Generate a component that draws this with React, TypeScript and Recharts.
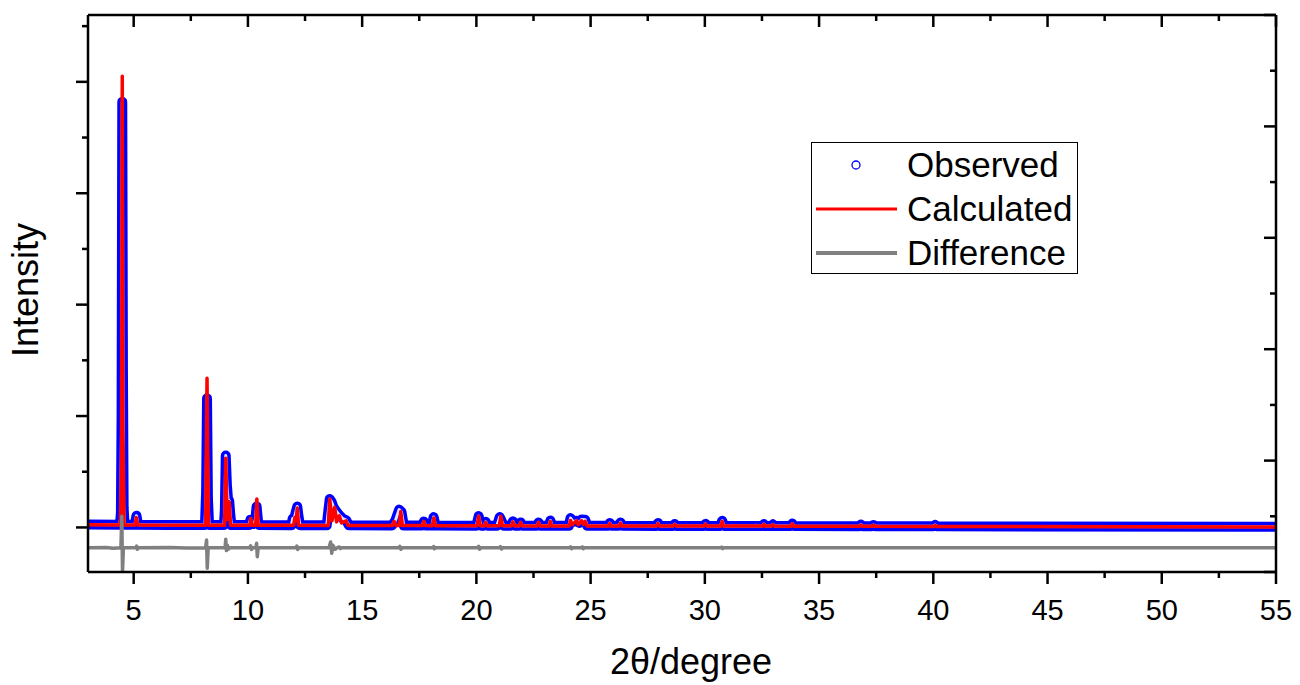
import { LineChart, Line, XAxis, YAxis, Legend } from "recharts";

// powder pattern: [2theta, intensity]
const observed: [number, number][] = [
  [3.0, 26],
  [4.40, 25], [4.44, 130], [4.47, 1000], [4.50, 3820], [4.53, 1400], [4.56, 180], [4.60, 25],
  [5.05, 24], [5.12, 105], [5.19, 24],
  [6.5, 23],
  [8.12, 22], [8.17, 320], [8.21, 1160], [8.25, 260], [8.30, 22],
  [8.95, 22], [8.99, 160], [9.03, 645], [9.08, 380], [9.13, 250], [9.18, 240], [9.23, 110], [9.28, 21],
  [10.05, 21], [10.11, 70], [10.17, 40], [10.24, 30], [10.32, 60], [10.38, 188], [10.44, 60], [10.50, 21],
  [11.90, 20], [11.96, 80], [12.04, 90], [12.11, 150], [12.16, 188], [12.22, 90], [12.28, 20],
  [13.45, 19], [13.52, 150], [13.58, 255], [13.66, 230], [13.75, 180], [13.85, 150], [14.0, 110], [14.15, 80], [14.30, 65], [14.42, 19],
  [16.3, 18], [16.45, 60], [16.62, 160], [16.72, 140], [16.82, 18],
  [17.62, 18], [17.70, 53], [17.78, 18],
  [18.05, 17], [18.13, 93], [18.21, 17],
  [20.0, 16], [20.1, 102], [20.2, 16], [20.34, 16], [20.41, 50], [20.48, 16],
  [20.9, 16], [21.02, 93], [21.1, 60], [21.2, 16],
  [21.52, 16], [21.6, 55], [21.68, 16], [21.88, 16], [21.94, 45], [22.0, 16],
  [22.65, 16], [22.72, 45], [22.79, 15],
  [23.16, 15], [23.24, 62], [23.32, 15],
  [24.05, 15], [24.12, 84], [24.25, 50], [24.38, 60], [24.5, 40], [24.6, 71], [24.76, 70], [24.85, 15],
  [25.78, 15], [25.84, 40], [25.9, 15],
  [26.24, 15], [26.31, 45], [26.38, 15],
  [27.88, 14], [27.95, 40], [28.02, 14],
  [28.6, 14], [28.68, 30], [28.76, 14],
  [29.96, 14], [30.03, 32], [30.1, 14],
  [30.68, 14], [30.76, 60], [30.84, 14],
  [32.5, 13], [32.58, 30], [32.66, 13],
  [32.9, 13], [32.98, 28], [33.06, 13],
  [33.75, 12], [33.83, 35], [33.91, 12],
  [36.75, 11], [36.83, 25], [36.91, 11],
  [37.3, 11], [37.38, 22], [37.46, 11],
  [40.0, 10], [40.08, 22], [40.16, 10],
  [55, 6],
];

const calculated: [number, number][] = [
  [3.0, 24],
  [4.42, 23], [4.47, 700], [4.50, 4050], [4.53, 900], [4.58, 23],
  [5.06, 22], [5.12, 88], [5.18, 22],
  [8.15, 20], [8.21, 1340], [8.27, 20],
  [8.98, 20], [9.03, 622], [9.09, 70], [9.18, 230], [9.24, 20],
  [10.08, 20], [10.13, 80], [10.19, 20], [10.34, 20], [10.39, 255], [10.45, 20],
  [12.0, 19], [12.06, 90], [12.11, 60], [12.16, 175], [12.22, 19],
  [13.52, 18], [13.58, 255], [13.68, 60], [13.8, 180], [13.88, 50], [14.0, 105], [14.1, 40], [14.3, 60], [14.38, 18],
  [16.33, 17], [16.4, 55], [16.5, 17], [16.63, 17], [16.69, 143], [16.76, 17],
  [17.64, 17], [17.70, 55], [17.76, 17],
  [18.07, 16], [18.14, 85], [18.21, 16],
  [20.03, 15], [20.1, 100], [20.17, 15], [20.35, 15], [20.41, 45], [20.47, 15],
  [21.0, 15], [21.07, 100], [21.14, 15],
  [21.54, 15], [21.6, 50], [21.66, 15], [21.88, 15], [21.94, 45], [22.0, 15],
  [22.66, 14], [22.72, 45], [22.78, 14],
  [23.18, 14], [23.24, 55], [23.3, 14],
  [24.06, 14], [24.12, 62], [24.2, 25], [24.38, 60], [24.46, 25], [24.6, 62], [24.68, 30], [24.76, 55], [24.84, 14],
  [25.79, 14], [25.84, 35], [25.89, 14],
  [26.25, 14], [26.31, 40], [26.37, 14],
  [27.89, 13], [27.95, 35], [28.01, 13],
  [28.62, 13], [28.68, 28], [28.74, 13],
  [29.97, 13], [30.03, 30], [30.09, 13],
  [30.7, 13], [30.76, 55], [30.82, 13],
  [32.52, 12], [32.58, 28], [32.64, 12],
  [32.92, 12], [32.98, 25], [33.04, 12],
  [33.77, 11], [33.83, 32], [33.89, 11],
  [36.77, 10], [36.83, 22], [36.89, 10],
  [37.32, 10], [37.38, 20], [37.44, 10],
  [40.02, 9], [40.08, 20], [40.14, 9],
  [55, 5],
];

// obs - calc, drawn with an offset below the pattern
const difference: [number, number][] = [
  [3, -183], [3.8, -180], [4.1, -186],
  [4.44, -183], [4.48, 100], [4.51, -400], [4.55, -183],
  [5.1, -183], [5.13, -168], [5.16, -196], [5.2, -183],
  [6.6, -181], [7.3, -185],
  [8.15, -183], [8.19, -113], [8.22, -366], [8.26, -183],
  [9.0, -183], [9.03, -105], [9.06, -208], [9.1, -160], [9.15, -195], [9.2, -183],
  [10.08, -183], [10.12, -165], [10.16, -198], [10.2, -183],
  [10.35, -183], [10.38, -142], [10.41, -263], [10.45, -183],
  [12.1, -183], [12.14, -168], [12.18, -198], [12.22, -183],
  [13.55, -183], [13.62, -130], [13.67, -232], [13.72, -160], [13.82, -196], [13.9, -183],
  [14.0, -175], [14.05, -190], [14.1, -183],
  [16.6, -183], [16.65, -170], [16.7, -196], [16.75, -183],
  [18.1, -183], [18.13, -172], [18.16, -192], [18.2, -183],
  [20.05, -183], [20.1, -170], [20.14, -195], [20.2, -183],
  [21.0, -183], [21.05, -172], [21.1, -194], [21.15, -183],
  [24.1, -183], [24.13, -174], [24.17, -191], [24.2, -183],
  [24.6, -183], [24.64, -175], [24.68, -190], [24.72, -183],
  [30.7, -183], [30.74, -176], [30.78, -190], [30.82, -183],
  [55, -183],
];

const xTicks = [5, 7.5, 10, 12.5, 15, 17.5, 20, 22.5, 25, 27.5, 30, 32.5, 35, 37.5, 40, 42.5, 45, 47.5, 50, 52.5, 55];
const xMajor = [5, 10, 15, 20, 25, 30, 35, 40, 45, 50, 55];
const leftTicks = [0, 500, 1000, 1500, 2000, 2500, 3000, 3500, 4000, 4500];
const leftMajor = [0, 1000, 2000, 3000, 4000];
const rightTicks = [-400, 100, 600, 1100, 1600, 2100, 2600, 3100, 3600, 4100, 4600];
const rightMajor = [-400, 600, 1600, 2600, 3600, 4600];

const series = [
  { name: "Observed", color: "#0000ff" },
  { name: "Calculated", color: "#ff0000" },
  { name: "Difference", color: "#808080" },
];

const FONT = "Arial, 'Liberation Sans', sans-serif";
const axisStyle = { stroke: "#000", strokeWidth: 2.5 };
const toRows = (pts: [number, number][]) => pts.map(([x, y]) => ({ x, y }));

const BottomTick = ({ x, y, payload }: any) => {
  const major = xMajor.includes(payload.value);
  return (
    <g>
      <line x1={x} x2={x} y1={y} y2={y + (major ? 12 : 6)} stroke="#000" strokeWidth={2.5} />
      {major && (
        <text x={x} y={y + 48} textAnchor="middle" fontSize={29} fontFamily={FONT} fill="#000">
          {payload.value}
        </text>
      )}
    </g>
  );
};

const TopTick = ({ x, y, payload }: any) => {
  const major = xMajor.includes(payload.value);
  return <line x1={x} x2={x} y1={y} y2={y + (major ? 12 : 6)} stroke="#000" strokeWidth={2.5} />;
};

const LeftTick = ({ x, y, payload }: any) => {
  const major = leftMajor.includes(payload.value);
  return <line x1={x - (major ? 12 : 6)} x2={x} y1={y} y2={y} stroke="#000" strokeWidth={2.5} />;
};

const RightTick = ({ x, y, payload }: any) => {
  const major = rightMajor.includes(payload.value);
  return <line x1={x - (major ? 12 : 6)} x2={x} y1={y} y2={y} stroke="#000" strokeWidth={2.5} />;
};

const LegendBox = () => (
  <svg width={268} height={133} style={{ display: "block" }}>
    <rect x={0.5} y={0.5} width={266} height={131} fill="#fff" stroke="#000" strokeWidth={1} />
    {series.map((s, i) => {
      const cy = 23 + i * 44;
      return (
        <g key={s.name}>
          {i === 0 ? (
            <circle cx={45} cy={cy} r={4} fill="none" stroke={s.color} strokeWidth={1.3} />
          ) : (
            <line x1={5} x2={86} y1={cy} y2={cy} stroke={s.color} strokeWidth={i === 1 ? 3 : 4} />
          )}
          <text x={96} y={cy + 11.5} fontSize={35} fontFamily={FONT} fill="#000">
            {s.name}
          </text>
        </g>
      );
    })}
  </svg>
);

export default function App() {
  const obsRows = toRows(observed);
  return (
    <div style={{ position: "absolute", left: 0, top: 0, width: 1300, height: 685, background: "#fff" }}>
      <LineChart width={1300} height={685} margin={{ top: 0, right: 0, bottom: 0, left: 0 }}>
        <XAxis
          xAxisId="bottom"
          type="number"
          dataKey="x"
          domain={[3, 55]}
          ticks={xTicks}
          interval={0}
          allowDataOverflow
          height={113}
          tickSize={0}
          tickMargin={0}
          tickLine={false}
          tick={<BottomTick />}
          axisLine={axisStyle}
          label={{
            content: () => (
              <text x={691} y={674} textAnchor="middle" fontSize={36} fontFamily={FONT} fill="#000">
                2θ/degree
              </text>
            ),
          }}
        />
        <XAxis
          xAxisId="top"
          orientation="top"
          type="number"
          dataKey="x"
          domain={[3, 55]}
          ticks={xTicks}
          interval={0}
          allowDataOverflow
          height={15}
          tickSize={0}
          tickMargin={0}
          tickLine={false}
          tick={<TopTick />}
          axisLine={axisStyle}
        />
        <YAxis
          yAxisId="left"
          type="number"
          domain={[-400, 4600]}
          ticks={leftTicks}
          interval={0}
          allowDataOverflow
          width={88}
          tickSize={0}
          tickMargin={0}
          tickLine={false}
          tick={<LeftTick />}
          axisLine={axisStyle}
          label={{
            content: () => (
              <text
                x={38}
                y={290}
                transform="rotate(-90, 38, 290)"
                textAnchor="middle"
                fontSize={36}
                fontFamily={FONT}
                fill="#000"
              >
                Intensity
              </text>
            ),
          }}
        />
        <YAxis
          yAxisId="right"
          orientation="right"
          type="number"
          domain={[-400, 4600]}
          ticks={rightTicks}
          interval={0}
          allowDataOverflow
          width={24}
          tickSize={0}
          tickMargin={0}
          tickLine={false}
          tick={<RightTick />}
          axisLine={axisStyle}
        />
        {/* observed: thick blue band of the data points, with a pale core like the stacked rings */}
        <Line
          xAxisId="bottom"
          yAxisId="left"
          data={obsRows}
          dataKey="y"
          name={series[0].name}
          type="linear"
          stroke={series[0].color}
          strokeWidth={10}
          strokeLinejoin="round"
          strokeLinecap="round"
          dot={false}
          activeDot={false}
          isAnimationActive={false}
        />
        <Line
          xAxisId="bottom"
          yAxisId="left"
          data={obsRows}
          dataKey="y"
          name="Observed core"
          legendType="none"
          type="linear"
          stroke="#e4e4ff"
          strokeWidth={3}
          strokeLinejoin="round"
          strokeLinecap="round"
          dot={false}
          activeDot={false}
          isAnimationActive={false}
        />
        <Line
          xAxisId="bottom"
          yAxisId="left"
          data={toRows(calculated)}
          dataKey="y"
          name={series[1].name}
          type="linear"
          stroke={series[1].color}
          strokeWidth={3.5}
          strokeLinejoin="round"
          strokeLinecap="round"
          dot={false}
          activeDot={false}
          isAnimationActive={false}
        />
        <Line
          xAxisId="bottom"
          yAxisId="left"
          data={toRows(difference)}
          dataKey="y"
          name={series[2].name}
          type="linear"
          stroke={series[2].color}
          strokeWidth={3.5}
          strokeLinejoin="round"
          strokeLinecap="round"
          dot={false}
          activeDot={false}
          isAnimationActive={false}
        />
        <Legend
          layout="vertical"
          align="center"
          verticalAlign="middle"
          wrapperStyle={{ left: 811, top: 142, width: 268, height: 133 }}
          content={() => <LegendBox />}
        />
      </LineChart>
    </div>
  );
}
